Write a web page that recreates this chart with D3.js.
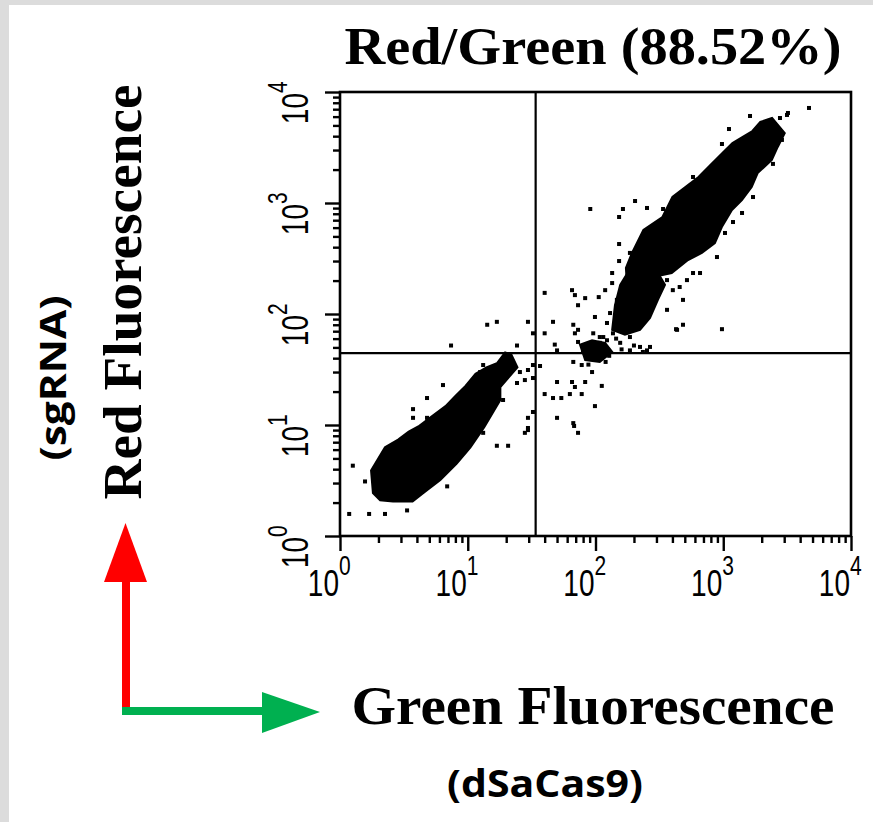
<!DOCTYPE html>
<html>
<head>
<meta charset="utf-8">
<script src="https://cdn.jsdelivr.net/npm/d3@7"></script>
<style>
  body { margin: 0; background: #dcdcdc; }
  svg { display: block; }
</style>
</head>
<body>
<svg></svg>
<script>
// ---- data (green = dSaCas9, red = sgRNA fluorescence) ----
var decades = [1, 10, 100, 1000, 10000];
var exponents = ["0", "1", "2", "3", "4"];
var gateGreen = 34;
var gateRed = 44.5;
var titleText = "Red/Green (88.52%)";

// dense population, low / low
var lowCluster = [[1.81,2.44],[1.75,3.9],[2.25,6.3],[2.85,7.4],[3.45,8.7],[4.1,9.7],[5.2,11.9],
  [6.7,14.8],[8.0,18.3],[9.6,22.5],[11.5,29],[14.0,33],[16.9,36],[19.6,45],[22,43],[24.5,33],
  [18,22],[18,16.8],[13.5,9.6],[10.5,6.3],[8.2,4.5],[6.1,3.2],[4.5,2.44],[3.7,2.05],[2.6,2.05],[2.06,2.1]];

// dense population, high / high
var highCluster = [[2410,5830],[3030,4270],[2670,3200],[2400,2440],[1860,1860],[1670,1393],[1400,1064],
  [1170,865],[975,608],[860,436],[680,355],[530,306],[395,234],[282,215],[244,164],[223,109],
  [193,85],[167,92],[177,164],[173,260],[193,355],[237,571],[334,748],[400,1132],[505,1393],
  [640,1715],[765,2110],[985,2820],[1180,3470],[1410,3930],[1690,4450],[1950,5370]];

// looser lower part of the high population
var highTail = [[180,239],[292,260],[350,183],[308,134],[267,92],[223,72],[170,65],[135,72],[142,120],[156,183]];

// small clump near the gate crossing
var midClump = [[75.6,53],[94,58],[119,54.8],[135,45.5],[108,37],[83,38.5]];

// single events
var sparseDots = [[4690,7180],[1620,6080],[3210,6470],[3155,6210],[2780,5830],[1109,4640],[1837,4640],
  [2780,4550],[2880,3700],[977,3400],[2450,2250],[580,1715],[1710,1132],[1403,813],[1192,674],
  [1032,537],[91,883],[204,1042],[164,883],[153,748],[253,902],[338,883],[258,537],[219,427],
  [153,427],[186,355],[153,300],[893,326],[135,234],[658,234],[580,234],[484,134],[363,109],
  [427,73],[484,80],[977,73],[40,155],[65.5,164],[69,148],[83,139],[106,142],[119,164],[135,190],
  [73,120],[99,94],[46.5,85],[67,80],[73,72],[40,67],[96,67],[108,62],[123,58],[48,53],
  [29.6,85],[32.4,67],[69,67],[73,56],[50,47],[435,72],[253,47],[235,45.5],[67,37],[78,34.7],
  [94,30],[29.6,31.3],[36.8,34],[32.4,26.5],[50,24.4],[65.5,24.4],[83,24.4],[112,22.5],[69,22],
  [40,19],[46.5,17.5],[54,17.5],[63,19],[78,19],[99,14.8],[32.4,13.1],[29.6,11.6],[50,11.6],
  [67,10.4],[68,9.8],[73,8.5],[29.6,9.0],[28,8.5],
  [14.2,80],[16.9,85],[7.4,52],[24.3,52],[32.4,34.7],[13.2,34.7],[12.5,30],[6.4,22.9],[4.8,17.5],
  [3.73,13.9],[3.73,11.6],[4.8,11.6],[13.2,8.5],[16.9,6.5],[20.7,6.5],[29.6,9.4],[18.9,16.8],
  [1.26,4.3],[1.57,3.1],[6.9,2.8],[3.35,1.7],[1.18,1.58],[1.69,1.58],[2.25,1.58],
  [20.3,41],[22.6,37],[25.6,30],[24.3,23.9],[28,25.4],
  [108,55],[90.6,50.5],[79.8,47],[156,55],[186,62],[403,164],[456,175],[520,202],[363,202],
  [282,288],[320,306],[130,102],[123,83],[267,50.5],[223,50.5],[186,47],[147,134],[137,67],
  [200,52],[160,48],[145,60],[115,62],[98,46],[128,42],[105,40],[88,35],[120,37],
  [2150,4900],[2600,3800],[1250,2300],[1000,1500],[330,420],[300,560],[720,760],[600,520]];

var minorTicks = [];
decades.slice(0, 4).forEach(function(d){
  for (var k = 2; k < 10; k++) minorTicks.push(d*k);
});

// ---- page ----
var W = 873, H = 822;
var svg = d3.select("svg").attr("width", W).attr("height", H);

// grey border then white sheet
svg.append("rect").attr("width", W).attr("height", H).attr("fill", "#dcdcdc");
svg.append("rect").attr("x", 9).attr("y", 5).attr("width", W - 9).attr("height", H - 5).attr("fill", "#fff");

var xScale = d3.scaleLog().domain([1, 10000]).range([340, 851]);
var yScale = d3.scaleLog().domain([1, 10000]).range([536, 92]);

// axes (ticks outside frame)
var xMinor = d3.axisBottom(xScale).tickValues(minorTicks).tickSize(7).tickFormat("");
var xMajor = d3.axisBottom(xScale).tickValues(decades).tickSize(15).tickFormat("");
var yMinor = d3.axisLeft(yScale).tickValues(minorTicks).tickSize(7).tickFormat("");
var yMajor = d3.axisLeft(yScale).tickValues(decades).tickSize(15).tickFormat("");

[xMinor, xMajor].forEach(function(ax){
  var g = svg.append("g").attr("transform", "translate(0,536)").call(ax);
  g.select(".domain").remove();
  g.selectAll("line").attr("stroke", "#000").attr("stroke-width", 2.4);
});
[yMinor, yMajor].forEach(function(ax){
  var g = svg.append("g").attr("transform", "translate(340,0)").call(ax);
  g.select(".domain").remove();
  g.selectAll("line").attr("stroke", "#000").attr("stroke-width", 2.4);
});

// tick labels 10^n : "10" ends at the tick, exponent raised after it
var tickFont = "Liberation Sans, Arial, sans-serif";
function powLabel(g, i) {
  g.append("text").attr("x", -1).attr("y", 0)
    .attr("text-anchor", "end")
    .attr("font-family", tickFont).attr("font-size", 28)
    .text("10");
  g.append("text").attr("x", -1).attr("y", -16)
    .attr("font-family", tickFont).attr("font-size", 21)
    .text(exponents[i]);
}
decades.forEach(function(v, i){
  var gx = svg.append("g").attr("transform", "translate(" + xScale(v) + ",596) scale(1,1.3)");
  powLabel(gx, i);
  var gy = svg.append("g").attr("transform", "translate(308," + yScale(v) + ") rotate(-90) scale(1,1.3)");
  powLabel(gy, i);
});

// events
var plot = svg.append("g");
var outline = d3.line()
  .x(function(d){ return xScale(d[0]); })
  .y(function(d){ return yScale(d[1]); })
  .curve(d3.curveLinearClosed);

[lowCluster, highCluster, highTail, midClump].forEach(function(c){
  plot.append("path").datum(c).attr("d", outline).attr("fill", "#000").attr("stroke", "#000").attr("stroke-width", 2);
});

plot.selectAll("rect.dot").data(sparseDots).enter().append("rect")
  .attr("class", "dot")
  .attr("x", function(d){ return xScale(d[0]) - 2; })
  .attr("y", function(d){ return yScale(d[1]) - 2; })
  .attr("width", 4).attr("height", 4)
  .attr("fill", "#000");

// quadrant gates
plot.append("line")
  .attr("x1", xScale(gateGreen)).attr("x2", xScale(gateGreen))
  .attr("y1", yScale(1)).attr("y2", yScale(10000))
  .attr("stroke", "#000").attr("stroke-width", 2.2);
plot.append("line")
  .attr("x1", xScale(1)).attr("x2", xScale(10000))
  .attr("y1", yScale(gateRed)).attr("y2", yScale(gateRed))
  .attr("stroke", "#000").attr("stroke-width", 2.2);

// frame
svg.append("rect")
  .attr("x", 340).attr("y", 92).attr("width", 511).attr("height", 444)
  .attr("fill", "none").attr("stroke", "#000").attr("stroke-width", 2.6);

// titles
var serif = "Liberation Serif, Times New Roman, serif";
svg.append("text")
  .attr("x", 593).attr("y", 64)
  .attr("text-anchor", "middle")
  .attr("font-family", serif).attr("font-weight", "bold")
  .attr("font-size", 52)
  .attr("textLength", 497).attr("lengthAdjust", "spacingAndGlyphs")
  .text(titleText);

svg.append("text")
  .attr("x", 593).attr("y", 724)
  .attr("text-anchor", "middle")
  .attr("font-family", serif).attr("font-weight", "bold")
  .attr("font-size", 54)
  .attr("textLength", 483).attr("lengthAdjust", "spacingAndGlyphs")
  .text("Green Fluorescence");

svg.append("text")
  .attr("transform", "translate(141,292) rotate(-90)")
  .attr("text-anchor", "middle")
  .attr("font-family", serif).attr("font-weight", "bold")
  .attr("font-size", 54)
  .attr("textLength", 415).attr("lengthAdjust", "spacingAndGlyphs")
  .text("Red Fluorescence");

var sans = "Open Sans, Noto Sans, sans-serif";
svg.append("text")
  .attr("transform", "translate(66,378) rotate(-90)")
  .attr("text-anchor", "middle")
  .attr("font-family", sans).attr("font-weight", "bold")
  .attr("font-size", 36)
  .attr("textLength", 165).attr("lengthAdjust", "spacingAndGlyphs")
  .text("(sgRNA)");

svg.append("text")
  .attr("x", 545).attr("y", 797)
  .attr("text-anchor", "middle")
  .attr("font-family", sans).attr("font-weight", "bold")
  .attr("font-size", 37)
  .attr("textLength", 196).attr("lengthAdjust", "spacingAndGlyphs")
  .text("(dSaCas9)");

// colour arrows
svg.append("rect").attr("x", 122).attr("y", 578).attr("width", 8).attr("height", 132).attr("fill", "#ff0000");
svg.append("polygon").attr("points", "104,582 147,582 125.5,523").attr("fill", "#ff0000");
svg.append("rect").attr("x", 122).attr("y", 707).attr("width", 142).attr("height", 8).attr("fill", "#00b050");
svg.append("polygon").attr("points", "262,692 262,733 320,712").attr("fill", "#00b050");
</script>
</body>
</html>
